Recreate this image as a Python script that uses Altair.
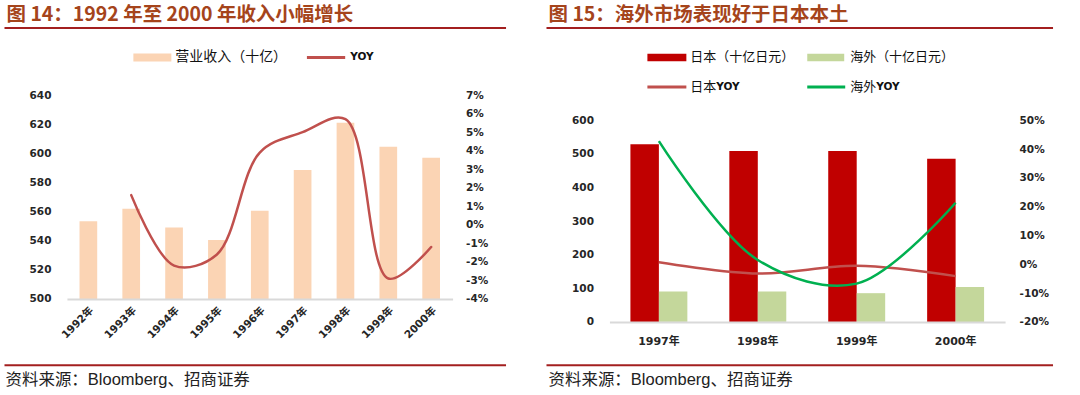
import altair as alt
import pandas as pd

# ---------------- data ----------------
years_a = ["1992年", "1993年", "1994年", "1995年", "1996年", "1997年", "1998年", "1999年", "2000年"]
revenue = [553.4, 562.0, 549.0, 540.5, 560.5, 588.5, 621.0, 604.5, 597.0]   # 十亿
yoy_a = [None, 1.6, -2.2, -1.6, 3.9, 5.0, 5.7, -2.9, -1.2]                     # %

years_b = ["1997年", "1998年", "1999年", "2000年"]
japan = [529.0, 509.0, 509.0, 486.0]          # 十亿日元
overseas = [90.5, 90.5, 85.5, 103.5]          # 十亿日元
japan_yoy = [0.7, -3.2, -0.5, -4.1]           # %
overseas_yoy = [42.8, 1.5, -6.7, 21.4]        # %

ticks_a_left = [500, 520, 540, 560, 580, 600, 620, 640]
ticks_a_right = [-4, -3, -2, -1, 0, 1, 2, 3, 4, 5, 6, 7]
ticks_b_left = [0, 100, 200, 300, 400, 500, 600]
ticks_b_right = [-20, -10, 0, 10, 20, 30, 40, 50]

title_a = "图 14：1992 年至 2000 年收入小幅增长"
title_b = "图 15：海外市场表现好于日本本土"
legend_a = ["营业收入（十亿）", "YOY"]
legend_b = ["日本（十亿日元）", "海外（十亿日元）", "日本", "海外"]
legend_yoy = "YOY"
source = "资料来源：Bloomberg、招商证券"

# ---------------- styles ----------------
CJK = "Noto Sans CJK SC"
NUM = "DejaVu Sans, Noto Sans CJK SC"
SRC = "Liberation Sans, Noto Sans CJK SC"
TITLE_COLOR = "#A5441B"
RULE_COLOR = "#A31F1F"
LABEL_COLOR = "#262626"
PEACH = "#FBD4B4"
LINE_RED = "#C0504D"
DARK_RED = "#C00000"
OLIVE = "#C4D79B"
GREEN = "#00B050"


def deco():
    return alt.Chart(pd.DataFrame({"k": [0]}))


def rect(x0, x1, y0, y1, color):
    return deco().mark_rect(color=color).encode(
        x=alt.value(x0), x2=alt.value(x1), y=alt.value(y0), y2=alt.value(y1))


def hline(x0, x1, y, color, width):
    return deco().mark_rule(color=color, strokeWidth=width).encode(
        x=alt.value(x0), x2=alt.value(x1), y=alt.value(y))


def label(txt, x, y, size, weight="normal", color="#111111", font=CJK):
    return deco().mark_text(text=txt, align="left", baseline="middle", font=font,
                            fontSize=size, fontWeight=weight, color=color).encode(
        x=alt.value(x), y=alt.value(y))


def y_axis(orient, values, pad, expr=None):
    kw = dict(orient=orient, values=values, title=None, domain=False, ticks=False,
              grid=False, labelPadding=pad, labelFont=NUM, labelFontSize=10.5,
              labelFontWeight="bold", labelColor=LABEL_COLOR, zindex=1)
    if expr:
        kw["labelExpr"] = expr
    return alt.Axis(**kw)


def x_axis(angle, pad, size):
    return alt.Axis(title=None, labelAngle=angle, domainColor="#D9D9D9", domainWidth=2,
                    ticks=False, grid=False, labelPadding=pad, labelFont=NUM,
                    labelFontSize=size, labelFontWeight="bold", labelColor=LABEL_COLOR,
                    zindex=1)


# ---------------- panel A: revenue 1992-2000 ----------------
df_a = pd.DataFrame({"year": years_a, "rev": revenue, "yoy": yoy_a})
W_A, H_A = 386, 204

x_a = alt.X("year:N", sort=years_a, scale=alt.Scale(paddingInner=0, paddingOuter=0),
            axis=x_axis(-45, 6, 10.5))

bars_a = alt.Chart(df_a).mark_bar(size=17.7, color=PEACH).encode(
    x=x_a,
    y=alt.Y("rev:Q", scale=alt.Scale(domain=[500, 640], nice=False, zero=False),
            axis=y_axis("left", ticks_a_left, 16)),
    y2=alt.datum(500),
)

line_a = alt.Chart(df_a).transform_filter("isValid(datum.yoy)").mark_line(
    color=LINE_RED, strokeWidth=2.5, interpolate="catmull-rom", strokeCap="round").encode(
    x=alt.X("year:N", sort=years_a),
    y=alt.Y("yoy:Q", scale=alt.Scale(domain=[-4, 7], nice=False, zero=False),
            axis=y_axis("right", ticks_a_right, 13, "datum.value + '%'")),
)

panel_a = alt.layer(
    rect(-66.5, 473.5, -94.7, 300.3, "white"),
    bars_a,
    line_a,
    label(title_a, -60.5, -80.5, 19.5, "bold", TITLE_COLOR),
    hline(-62.5, 439.5, -67.2, RULE_COLOR, 2),
    rect(66.5, 104.5, -41.7, -33.7, PEACH),
    label(legend_a[0], 108.5, -37.7, 14),
    hline(240.2, 278.5, -37.7, LINE_RED, 3),
    label(legend_a[1], 283.5, -37.7, 10.5, "bold", font=NUM),
    hline(-62.5, 439.5, 270.3, RULE_COLOR, 2),
    label(source, -61.5, 285, 16.5, color="#222222", font=SRC),
).resolve_scale(y="independent").properties(width=W_A, height=H_A)

# ---------------- panel B: Japan vs overseas ----------------
# plot group shares the top edge of panel A; the value scales start 25.3px lower
df_b = pd.DataFrame({"year": years_b, "japan": japan, "overseas": overseas,
                     "japan_yoy": japan_yoy, "overseas_yoy": overseas_yoy})
W_B, H_B = 396, 227
TOP_B = 25.3
BAR_B = 28.5

x_b = alt.X("year:N", sort=years_b, scale=alt.Scale(paddingInner=0, paddingOuter=0),
            axis=x_axis(0, 14, 11))
x_b_plain = alt.X("year:N", sort=years_b)


def y_left(field, axis):
    return alt.Y(field, scale=alt.Scale(domain=[0, 600], nice=False, range=[H_B, TOP_B]),
                 axis=axis)


def y_right(field, axis):
    return alt.Y(field, scale=alt.Scale(domain=[-20, 50], nice=False, zero=False,
                                        range=[H_B, TOP_B]), axis=axis)


base_b = alt.Chart(df_b)
bars_jp = base_b.mark_bar(size=BAR_B, xOffset=-BAR_B / 2, color=DARK_RED).encode(
    x=x_b, y=y_left("japan:Q", y_axis("left", ticks_b_left, 16)))
bars_os = base_b.mark_bar(size=BAR_B, xOffset=BAR_B / 2, color=OLIVE).encode(
    x=x_b_plain, y=y_left("overseas:Q", None))
line_jp = base_b.mark_line(color=LINE_RED, strokeWidth=2.5, interpolate="catmull-rom").encode(
    x=x_b_plain,
    y=y_right("japan_yoy:Q", y_axis("right", ticks_b_right, 14, "datum.value + '%'")))
line_os = base_b.mark_line(color=GREEN, strokeWidth=2.5, interpolate="catmull-rom").encode(
    x=x_b_plain, y=y_right("overseas_yoy:Q", None))

panel_b = alt.layer(
    rect(-69, 471, -94.7, 300.3, "white"),
    bars_jp,
    bars_os,
    line_jp,
    line_os,
    label(title_b, -61, -80.5, 19.5, "bold", TITLE_COLOR),
    hline(-63, 444, -67.2, RULE_COLOR, 2),
    rect(38, 77, -41.4, -34, DARK_RED),
    label(legend_b[0], 81, -37.7, 13),
    rect(198, 235, -41.4, -34, OLIVE),
    label(legend_b[1], 241, -37.7, 13),
    hline(38, 77, -8, LINE_RED, 3),
    label(legend_b[2], 81, -8, 13),
    label(legend_yoy, 107, -8, 10.5, "bold", font=NUM),
    hline(198, 236, -8, GREEN, 3),
    label(legend_b[3], 241, -8, 13),
    label(legend_yoy, 267, -8, 10.5, "bold", font=NUM),
    hline(-63, 444, 270.3, RULE_COLOR, 2),
    label(source, -61, 285, 16.5, color="#222222", font=SRC),
).resolve_scale(y="independent").properties(width=W_B, height=H_B)

chart = alt.hconcat(panel_a, panel_b, spacing=0).properties(padding=0).configure_view(stroke=None)

chart.save("out.html", embed_options={"renderer": "svg", "actions": False})
